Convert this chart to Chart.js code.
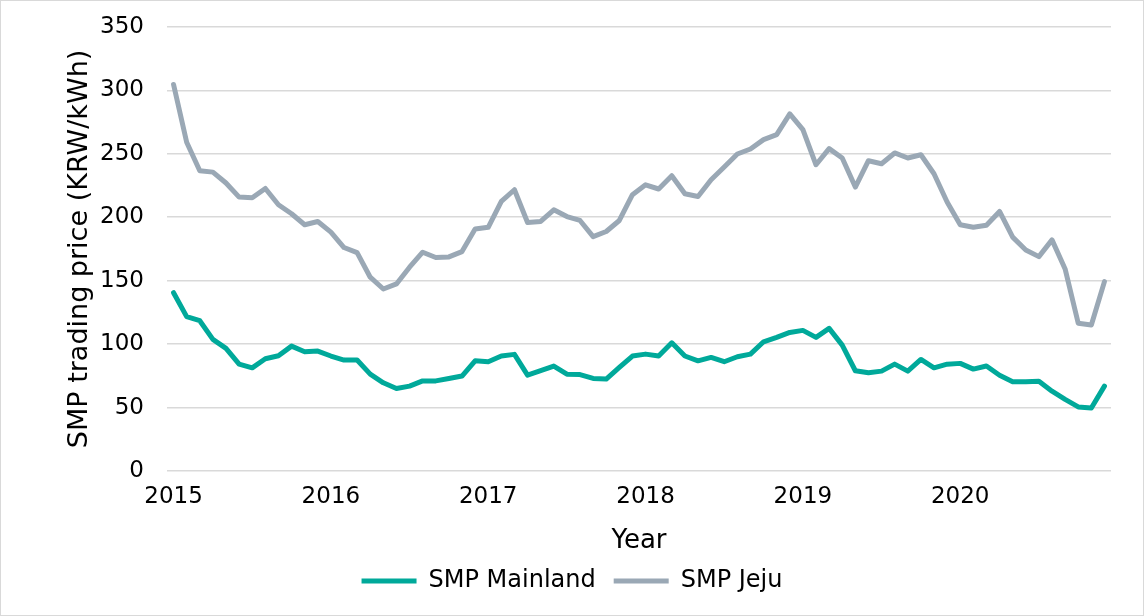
<!DOCTYPE html>
<html>
<head>
<meta charset="utf-8">
<script src="https://cdn.jsdelivr.net/npm/chart.js@4/dist/chart.umd.min.js"></script>
<style>
  html, body { margin: 0; padding: 0; background: #fff; }
  #wrap { width: 1144px; height: 616px; box-sizing: border-box; border: 1px solid #d9d9d9; }
</style>
</head>
<body>
<div id="wrap"><canvas id="smpChart" width="1142" height="614"></canvas></div>
<script>
const years = ['2015', '2016', '2017', '2018', '2019', '2020']
const months = ['01', '02', '03', '04', '05', '06', '07', '08', '09', '10', '11', '12']
const yTicks = [0, 50, 100, 150, 200, 250, 300, 350]

const smpMainland = [
  140.5, 121.6, 118.4, 103.7, 96.6, 84.2, 81.3, 88.4, 90.8, 98.4, 94.0, 94.5,
  90.6, 87.4, 87.4, 76.3, 69.5, 65.0, 66.9, 71.0, 71.0, 72.9, 74.8, 86.8,
  86.1, 90.6, 91.9, 75.5, 79.0, 82.7, 76.3, 76.0, 72.9, 72.4, 81.6, 90.6,
  92.1, 90.6, 101.0, 90.6, 86.8, 89.5, 86.1, 90.0, 92.1, 101.8, 105.3, 109.2,
  110.8, 105.3, 112.4, 99.2, 79.0, 77.4, 78.7, 84.2, 78.7, 87.9, 81.3, 84.2,
  84.8, 80.3, 82.7, 75.5, 70.3, 70.3, 70.8, 62.9, 56.4, 50.5, 49.7, 66.9
]
const smpJeju = [
  304.5, 259.0, 236.6, 235.5, 226.9, 215.8, 215.3, 222.6, 209.8, 202.7, 194.0, 196.6,
  188.2, 176.1, 172.1, 152.7, 143.4, 147.4, 160.6, 172.4, 168.2, 168.7, 172.9, 190.6,
  192.0, 212.4, 221.6, 195.8, 196.6, 205.8, 200.5, 197.4, 184.7, 188.7, 197.4, 217.7,
  225.5, 222.2, 232.7, 218.4, 216.3, 229.5, 239.5, 249.8, 253.7, 261.1, 265.0, 281.4,
  269.0, 241.3, 254.0, 246.6, 223.7, 244.5, 242.1, 250.6, 246.6, 249.2, 234.2, 211.9,
  194.0, 192.1, 193.7, 204.5, 184.3, 174.2, 168.9, 182.1, 159.2, 116.4, 115.0, 149.2
]

const labels = []
years.forEach(y => months.forEach(m => labels.push(y + '-' + m)))

const fontFamily = '"DejaVu Sans", Verdana, sans-serif'

const ctx = document.getElementById('smpChart').getContext('2d')
const chart = new Chart(ctx, {
  type: 'line',
  data: {
    labels: labels,
    datasets: [
      {
        label: 'SMP Mainland',
        data: smpMainland,
        borderColor: '#00a99a',
        backgroundColor: '#00a99a',
        borderWidth: 5,
        borderCapStyle: 'round',
        borderJoinStyle: 'round',
        pointRadius: 0,
        tension: 0
      },
      {
        label: 'SMP Jeju',
        data: smpJeju,
        borderColor: '#9aa8b5',
        backgroundColor: '#9aa8b5',
        borderWidth: 5,
        borderCapStyle: 'round',
        borderJoinStyle: 'round',
        pointRadius: 0,
        tension: 0
      }
    ]
  },
  options: {
    responsive: false,
    animation: false,
    layout: {
      padding: { top: 0, right: 0, bottom: 12, left: 0 }
    },
    scales: {
      x: {
        offset: true,
        grid: { display: false, drawTicks: false },
        border: { display: false },
        ticks: {
          autoSkip: false,
          maxRotation: 0,
          padding: 12,
          color: '#000',
          font: { family: fontFamily, size: 23 },
          callback: function(value, index) {
            return index % 12 === 0 ? labels[index].slice(0, 4) : ''
          }
        },
        title: {
          display: true,
          text: 'Year',
          color: '#000',
          padding: { top: 0, bottom: -6 },
          font: { family: fontFamily, size: 26 }
        },
        afterFit: function(scale) { scale.height = 80 }
      },
      y: {
        min: 0,
        max: 350,
        afterBuildTicks: function(scale) {
          scale.ticks = yTicks.map(v => ({ value: v }))
        },
        grid: {
          color: '#d9d9d9',
          lineWidth: 1.5,
          drawTicks: true,
          tickLength: 11,
          tickColor: 'rgba(0,0,0,0)'
        },
        border: { display: false },
        ticks: {
          padding: 12,
          color: '#000',
          font: { family: fontFamily, size: 23 }
        },
        title: {
          display: true,
          text: 'SMP trading price (KRW/kWh)',
          color: '#000',
          padding: { top: 63, bottom: 0 },
          font: { family: fontFamily, size: 27 }
        },
        afterFit: function(scale) { scale.width = 166 }
      },
      // empty right-hand gutter so the legend centres on the whole canvas
      yRight: {
        position: 'right',
        min: 0,
        max: 350,
        grid: { display: false, drawTicks: false },
        border: { display: false },
        ticks: { display: false },
        afterFit: function(scale) { scale.width = 32 }
      }
    },
    plugins: {
      legend: {
        position: 'bottom',
        labels: {
          usePointStyle: true,
          pointStyle: 'line',
          pointStyleWidth: 55,
          padding: 18,
          color: '#000',
          font: { family: fontFamily, size: 24 }
        }
      },
      tooltip: { enabled: false }
    }
  }
})
</script>
</body>
</html>
